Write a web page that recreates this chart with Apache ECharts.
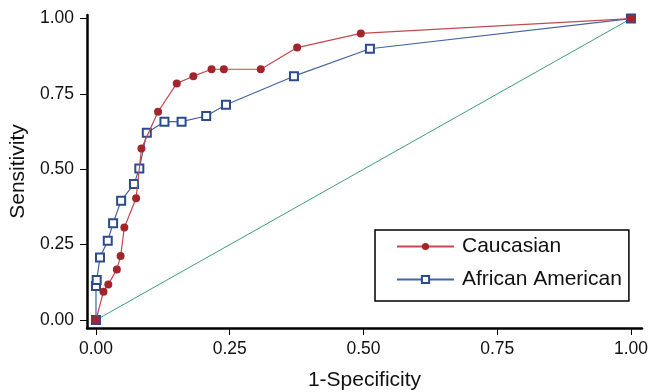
<!DOCTYPE html>
<html>
<head>
<meta charset="utf-8">
<script src="https://cdn.jsdelivr.net/npm/echarts@6/dist/echarts.min.js"></script>
<style>
html,body{margin:0;padding:0;background:#fff;}
#chart{width:649px;height:392px;}
</style>
</head>
<body>
<div id="chart"></div>
<script>
const seriesNames = ['Caucasian', 'African American'];
const caucasianX = [0, 0.014, 0.023, 0.039, 0.046, 0.053, 0.075, 0.085, 0.116, 0.151, 0.182, 0.216, 0.239, 0.308, 0.376, 0.495, 1.0];
const caucasianY = [0, 0.094, 0.118, 0.168, 0.212, 0.307, 0.404, 0.569, 0.691, 0.785, 0.809, 0.832, 0.832, 0.832, 0.904, 0.951, 1.0];
const africanX = [0, 0, 0.0013, 0.0075, 0.022, 0.032, 0.047, 0.071, 0.081, 0.095, 0.128, 0.160, 0.206, 0.243, 0.370, 0.512, 1.0];
const africanY = [0, 0.113, 0.133, 0.207, 0.263, 0.321, 0.396, 0.451, 0.503, 0.621, 0.658, 0.658, 0.677, 0.714, 0.809, 0.900, 1.0];
const diagonalX = [0, 1];
const diagonalY = [0, 1];
const tickValues = [0, 0.25, 0.5, 0.75, 1];

const zip = (xs, ys) => xs.map((x, i) => [x, ys[i]]);
const font = "'Liberation Sans', Arial, Helvetica, sans-serif";

const chart = echarts.init(document.getElementById('chart'), null, {renderer: 'canvas'});

const axisCommon = {
  type: 'value',
  nameLocation: 'middle',
  nameTextStyle: {fontFamily: font, fontSize: 21, color: '#111'},
  axisLine: {show: true, onZero: false, lineStyle: {color: '#000', width: 2.5}},
  axisTick: {show: true, length: 7, customValues: tickValues, lineStyle: {color: '#000', width: 1}},
  axisLabel: {customValues: tickValues, fontFamily: font, fontSize: 17.5, color: '#111',
    formatter: v => v.toFixed(2)},
  splitLine: {show: false}
};

chart.setOption({
  animation: false,
  backgroundColor: '#fff',
  grid: {left: 87, right: 7, top: 15, bottom: 64, containLabel: false, outerBoundsMode: 'none'},
  xAxis: Object.assign({}, axisCommon, {
    min: -0.0168, max: 1.0206,
    name: '1-Specificity', nameGap: 42,
    axisLabel: Object.assign({}, axisCommon.axisLabel, {margin: 12})
  }),
  yAxis: Object.assign({}, axisCommon, {
    min: -0.0265, max: 1.012,
    name: 'Sensitivity', nameGap: 57,
    axisLabel: Object.assign({}, axisCommon.axisLabel, {margin: 13})
  }),
  legend: {
    orient: 'vertical',
    left: 375, top: 230,
    data: seriesNames,
    backgroundColor: '#fff',
    borderColor: '#000',
    borderWidth: 1.5,
    borderRadius: 0,
    padding: [6, 7, 11, 21],
    itemWidth: 57,
    itemHeight: 9,
    itemGap: 12,
    textStyle: {fontFamily: font, fontSize: 21, color: '#111', padding: [0, 0, 0, 3]}
  },
  series: [
    {
      name: 'diag', type: 'line', data: zip(diagonalX, diagonalY),
      showSymbol: false, symbol: 'none', z: 1,
      lineStyle: {color: '#3f9c82', width: 1}, clip: false, silent: true
    },
    {
      name: seriesNames[1], type: 'line', data: zip(africanX, africanY),
      symbol: 'emptyRect', symbolSize: 8, z: 2, clip: false,
      lineStyle: {color: '#44649f', width: 1.2},
      itemStyle: {color: '#2c4b8c', borderColor: '#2c4b8c', borderWidth: 1.2}
    },
    {
      name: seriesNames[0], type: 'line', data: zip(caucasianX, caucasianY),
      symbol: 'circle', symbolSize: 8, z: 3, clip: false,
      lineStyle: {color: '#c04a50', width: 1.2},
      itemStyle: {color: '#a3252c'}
    }
  ]
});
</script>
</body>
</html>
